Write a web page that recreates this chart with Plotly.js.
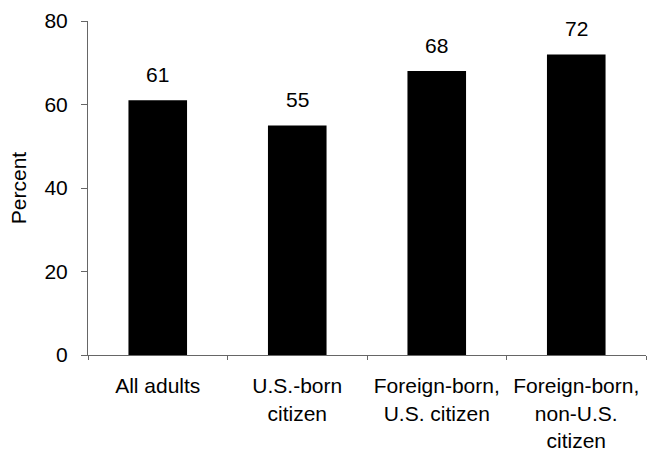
<!DOCTYPE html>
<html><head><meta charset="utf-8">
<script src="https://cdn.plot.ly/plotly-3.0.1.min.js"></script>
<style>html,body{margin:0;padding:0;background:#fff}#chart{width:655px;height:458px}</style>
</head><body><div id="chart"></div>
<script>
const categories = ["All adults", "U.S.-born<br>citizen", "Foreign-born,<br>U.S. citizen", "Foreign-born,<br>non-U.S.<br>citizen"];
const values = [61, 55, 68, 72];
const valueLabels = ["61", "55", "68", "72"];
const yTicks = [0, 20, 40, 60, 80];

const font = {family: "Liberation Sans, Arial, sans-serif", size: 21, color: "#000"};

const trace = {
  type: "bar", x: categories, y: values,
  marker: {color: "#000", line: {width: 0}},
  width: 0.42, hoverinfo: "skip"
};

const annotations = categories.map((c, i) => ({
  x: c, y: values[i], text: valueLabels[i], showarrow: false,
  xref: "x", yref: "y", yanchor: "bottom", yshift: 12, font: font
}));

const layout = {
  width: 655, height: 458,
  margin: {l: 88, r: 9, t: 21, b: 103, pad: 0},
  paper_bgcolor: "#fff", plot_bgcolor: "#fff",
  font: font, showlegend: false,
  xaxis: {
    type: "category", showline: true, linecolor: "#666", linewidth: 1,
    ticks: "outside", tickson: "boundaries", ticklen: 4, tickcolor: "#666",
    showgrid: false, zeroline: false, tickfont: font, ticklabelstandoff: 12
  },
  yaxis: {
    range: [0, 80], tickvals: yTicks, ticktext: yTicks.map(String),
    showline: true, linecolor: "#666", linewidth: 1,
    ticks: "outside", ticklen: 6, tickcolor: "#666",
    showgrid: false, zeroline: false, tickfont: font, ticklabelstandoff: 9,
    title: {text: "Percent", font: font, standoff: 12}
  },
  annotations: annotations
};

Plotly.newPlot("chart", [trace], layout, {displayModeBar: false, staticPlot: true});
</script></body></html>
